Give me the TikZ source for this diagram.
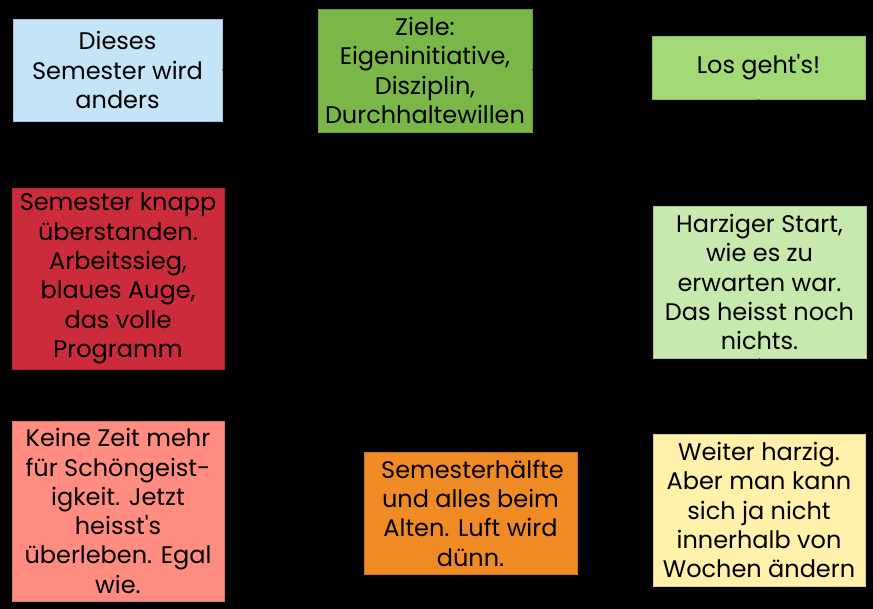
\documentclass[tikz,border=0pt]{standalone}
\usepackage{fontspec}
\setmainfont{Poppins}
\usetikzlibrary{arrows.meta}
\definecolor{cDieses}{RGB}{197,228,248}
\definecolor{cZiele}{RGB}{122,182,72}
\definecolor{cLos}{RGB}{163,217,119}
\definecolor{cKnapp}{RGB}{204,43,59}
\definecolor{cHarz}{RGB}{199,233,173}
\definecolor{cKeine}{RGB}{255,140,128}
\definecolor{cHalb}{RGB}{240,138,36}
\definecolor{cWeiter}{RGB}{255,240,170}
\tikzset{
  box/.style={rectangle, inner sep=0pt, align=center, text=black,
    font=\fontsize{24}{29.3}\selectfont, line width=0.6pt},
  flow/.style={draw=black, line width=1pt, shorten >=1pt, -{Stealth[length=8pt]}}
}
\begin{document}
\begin{tikzpicture}[x=1pt,y=-1pt]
\fill[black] (0,0) rectangle (873,609);
\useasboundingbox (0,0) rectangle (873,609);
\node[box, fill=cDieses, draw=cDieses!85!black, minimum width=209pt, minimum height=102pt] (dieses) at (117.5,70) {Dieses\\Semester wird\\anders};
\node[box, fill=cZiele, draw=cZiele!85!black, minimum width=214pt, minimum height=123pt] (ziele) at (425,70.5) {Ziele:\\Eigeninitiative,\\Disziplin,\\Durchhaltewillen};
\node[box, fill=cLos, draw=cLos!85!black, minimum width=213pt, minimum height=63pt] (los) at (758.5,67.5) {Los geht\textquotesingle s!};
\node[box, fill=cKnapp, draw=cKnapp!85!black, minimum width=212pt, minimum height=181pt] (knapp) at (118,278.5) {Semester knapp\\überstanden.\\Arbeitssieg,\\blaues Auge,\\das volle\\Programm};
\node[box, fill=cHarz, draw=cHarz!85!black, minimum width=213pt, minimum height=152pt] (harz) at (759.5,282) {Harziger Start,\\wie es zu\\erwarten war.\\Das heisst noch\\nichts.};
\node[box, fill=cKeine, draw=cKeine!85!black, minimum width=212pt, minimum height=180pt] (keine) at (118,511) {Keine Zeit mehr\\für Schöngeist-\\igkeit. Jetzt\\heisst\textquotesingle s\\überleben. Egal\\wie.};
\node[box, fill=cHalb, draw=cHalb!85!black, minimum width=213pt, minimum height=122pt] (halb) at (470.5,513) {\hspace*{4pt}Semesterhälfte\\und alles beim\\Alten. Luft wird\\dünn.};
\node[box, fill=cWeiter, draw=cWeiter!85!black, minimum width=212pt, minimum height=152pt] (weiter) at (759,510) {Weiter harzig.\\Aber man kann\\sich ja nicht\\innerhalb von\\Wochen ändern};
\draw[flow] (dieses) -- (ziele);
\draw[flow] (ziele) -- (los);
\draw[flow] (los) -- (harz);
\draw[flow] (harz) -- (weiter);
\draw[flow] (weiter) -- (halb);
\draw[flow] (halb) -- (keine);
\draw[flow] (keine) -- (knapp);
\end{tikzpicture}
\end{document}
